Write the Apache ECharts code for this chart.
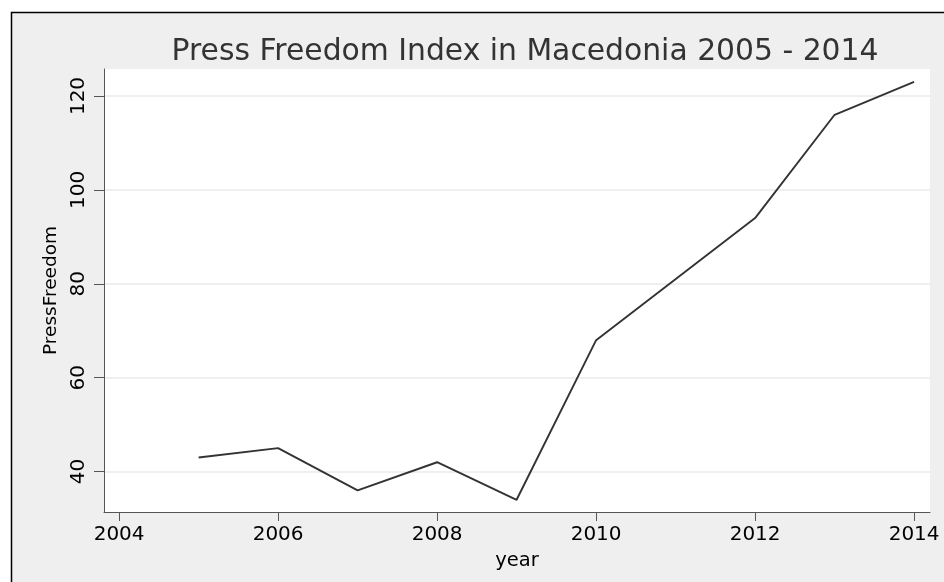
<!DOCTYPE html>
<html>
<head>
<meta charset="utf-8">
<script src="https://cdn.jsdelivr.net/npm/echarts@6/dist/echarts.min.js"></script>
<style>
html,body{margin:0;padding:0;background:#fff;}
#c{width:944px;height:582px;}
</style>
</head>
<body>
<div id="c"></div>
<script>
const years = [2005, 2006, 2007, 2008, 2009, 2010, 2012, 2013, 2014];
const pressFreedom = [43, 45, 36, 42, 34, 68, 94, 116, 123];
const xTicks = [2004, 2006, 2008, 2010, 2012, 2014];
const yTicks = [40, 60, 80, 100, 120];

const chart = echarts.init(document.getElementById('c'));
const font = '"DejaVu Sans", sans-serif';
chart.setOption({
  animation: false,
  backgroundColor: '#ffffff',
  graphic: [{
    type: 'rect', silent: true, z: -10,
    shape: {x: 11.5, y: 12.5, width: 1000, height: 1000},
    style: {fill: '#efefef', stroke: '#000', lineWidth: 1.5}
  }],
  title: {
    text: 'Press Freedom Index in Macedonia 2005 - 2014',
    left: 520, top: 32, textAlign: 'center',
    textStyle: {fontFamily: font, fontSize: 29.8, fontWeight: 'normal', color: '#333'}
  },
  grid: {
    left: 104, top: 69, right: 14, bottom: 70,
    show: true, backgroundColor: '#fff', borderWidth: 0
  },
  xAxis: {
    type: 'value', min: 2003.81, max: 2014.2,
    name: 'year', nameLocation: 'middle', nameGap: 39,
    nameTextStyle: {fontFamily: font, fontSize: 19.5, color: '#000'},
    axisLine: {show: true, onZero: false, lineStyle: {color: '#555', width: 1}},
    axisTick: {show: true, length: 9, customValues: xTicks, lineStyle: {color: '#555'}},
    axisLabel: {customValues: xTicks, margin: 13, fontFamily: font, fontSize: 20, color: '#000',
      formatter: v => String(v), showMinLabel: true, showMaxLabel: true},
    splitLine: {show: false}
  },
  yAxis: {
    type: 'value', min: 31.4, max: 125.75,
    name: 'PressFreedom', nameLocation: 'middle', nameGap: 42, nameRotate: 90,
    nameTextStyle: {fontFamily: font, fontSize: 18.5, color: '#000'},
    axisLine: {show: true, onZero: false, lineStyle: {color: '#555', width: 1}},
    axisTick: {show: true, length: 10, customValues: yTicks, lineStyle: {color: '#555'}},
    axisLabel: {customValues: yTicks, rotate: 90, margin: 15, fontFamily: font, fontSize: 20, color: '#000'},
    splitLine: {show: true, lineStyle: {color: '#eaeaea', width: 1.5}}
  },
  series: [{
    type: 'line',
    data: years.map((y, i) => [y, pressFreedom[i]]),
    symbol: 'none',
    lineStyle: {color: '#333', width: 1.9},
    itemStyle: {color: '#333'}
  }]
});
</script>
</body>
</html>
